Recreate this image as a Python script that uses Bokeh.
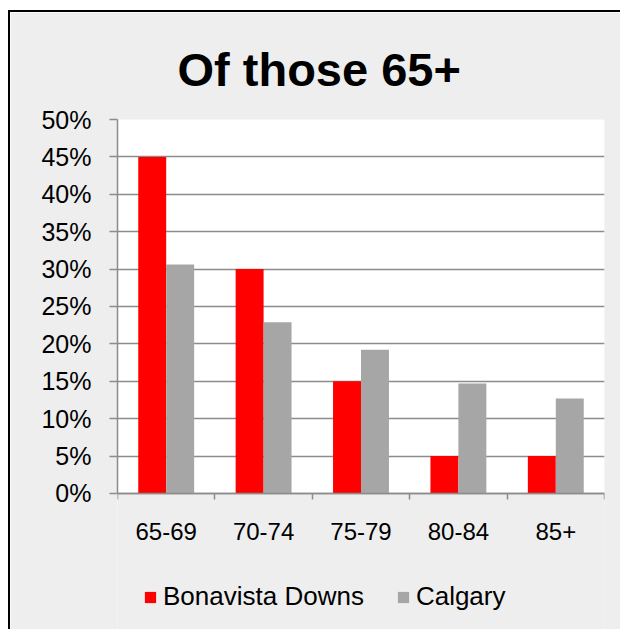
import numpy as np
from bokeh.plotting import figure
from bokeh.models import (ColumnDataSource, Range1d, FixedTicker, PrintfTickFormatter,
                          Legend, LegendItem, BoxAnnotation)
from bokeh.transform import dodge
from bokeh.embed import file_html
from bokeh.resources import INLINE

categories = ["65-69", "70-74", "75-79", "80-84", "85+"]
bonavista = [45, 30, 15, 5, 5]
calgary = [30.6, 22.9, 19.2, 14.7, 12.7]
y_ticks = [0, 5, 10, 15, 20, 25, 30, 35, 40, 45, 50]
series_names = ["Bonavista Downs", "Calgary"]
colors = ["#FF0000", "#A6A6A6"]

centers = np.arange(len(categories)) + 0.5
bw = 0.287
src = ColumnDataSource(dict(x=centers, b=bonavista, c=calgary))

FONT = "Liberation Sans"
BG = "#EEEEEE"

# frame extends below the plot area so the legend can sit inside it
p = figure(frame_width=487, frame_height=510, output_backend="svg", toolbar_location=None,
           x_range=Range1d(0, len(categories)), y_range=Range1d(-18.2, y_ticks[-1]),
           min_border_left=107, min_border_right=16, min_border_top=107,
           min_border_bottom=0)
p.margin = (10, 0, 0, 8)
p.styles = {"border-left": "2px solid black", "border-top": "2px solid black"}

p.border_fill_color = BG
p.background_fill_color = BG
p.outline_line_color = None

# white plot area between 0% and 50%
p.add_layout(BoxAnnotation(bottom=y_ticks[0], top=y_ticks[-1], fill_color="white",
                           fill_alpha=1, line_color=None, level="image"))

r1 = p.vbar(x=dodge("x", -bw / 2), top="b", width=bw, source=src, fill_color=colors[0], line_color=None)
r2 = p.vbar(x=dodge("x", bw / 2), top="c", width=bw, source=src, fill_color=colors[1], line_color=None)

# grid
p.xgrid.grid_line_color = None
p.ygrid.ticker = FixedTicker(ticks=y_ticks)
p.ygrid.grid_line_color = "#8C8C8C"
p.ygrid.grid_line_width = 1.5

# y axis
p.yaxis.ticker = FixedTicker(ticks=y_ticks)
p.yaxis.bounds = (y_ticks[0], y_ticks[-1])
p.yaxis.formatter = PrintfTickFormatter(format="%d%%")
p.yaxis.axis_line_color = "#8C8C8C"
p.yaxis.axis_line_width = 1.5
p.yaxis.major_tick_line_color = "#8C8C8C"
p.yaxis.major_tick_line_width = 1.5
p.yaxis.major_tick_out = 8
p.yaxis.major_tick_in = 0
p.yaxis.minor_tick_line_color = None
p.yaxis.major_label_text_font = FONT
p.yaxis.major_label_text_font_size = "25px"
p.yaxis.major_label_text_color = "black"
p.yaxis.major_label_standoff = 18

# x axis, drawn at 0%
p.xaxis.fixed_location = y_ticks[0]
p.xaxis.ticker = FixedTicker(ticks=list(centers), minor_ticks=list(range(len(categories) + 1)))
p.xaxis.major_label_overrides = {float(c): lab for c, lab in zip(centers, categories)}
p.xaxis.major_tick_line_color = None
p.xaxis.minor_tick_line_color = "#8C8C8C"
p.xaxis.minor_tick_line_width = 1.5
p.xaxis.minor_tick_out = 6
p.xaxis.minor_tick_in = 0
p.xaxis.axis_line_color = "#8C8C8C"
p.xaxis.axis_line_width = 1.5
p.xaxis.major_label_text_font = FONT
p.xaxis.major_label_text_font_size = "24px"
p.xaxis.major_label_text_color = "black"
p.xaxis.major_label_standoff = 24

# title
p.title.text = "Of those 65+"
p.title.text_font = FONT
p.title.text_font_size = "47px"
p.title.text_font_style = "bold"
p.title.text_color = "black"
p.title.align = "left"
p.title.vertical_align = "top"
p.title.offset = 60
p.title.standoff = 44

legend = Legend(items=[LegendItem(label=series_names[0], renderers=[r1]),
                       LegendItem(label=series_names[1], renderers=[r2])],
                orientation="horizontal", location=(26, 17))
legend.label_text_font = FONT
legend.label_text_font_size = "26px"
legend.label_text_color = "black"
legend.glyph_width = 14
legend.glyph_height = 14
legend.label_standoff = 6
legend.spacing = 32
legend.background_fill_alpha = 0
legend.border_line_color = None
legend.margin = 0
legend.padding = 0
p.add_layout(legend, "center")

html = file_html(p, INLINE)
html = html.replace("<head>", "<head><style>html,body{overflow:hidden;}</style>", 1)
open("out.html", "w").write(html)
